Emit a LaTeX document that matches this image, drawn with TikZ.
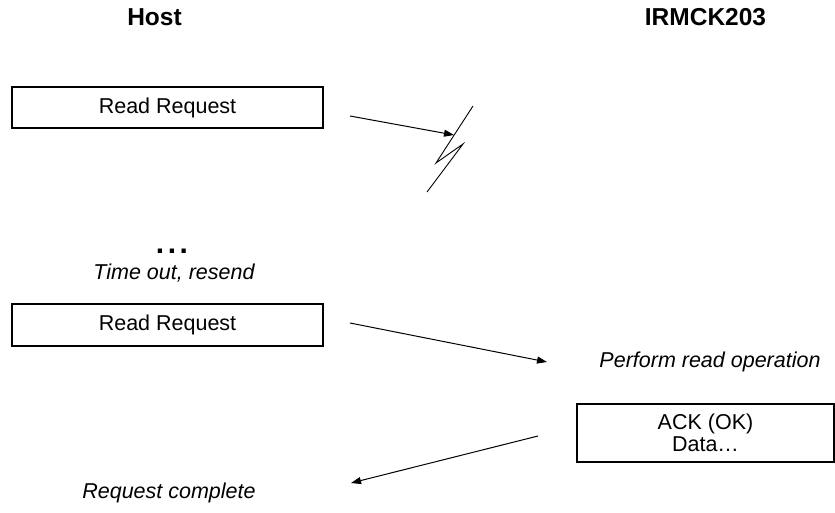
\documentclass[tikz,border=0pt]{standalone}
\usepackage{fontspec}
\setmainfont{Liberation Sans}
\usetikzlibrary{arrows.meta}
\tikzset{
  box/.style={draw=black, line width=1.2pt, rectangle, inner sep=0pt, font=\fontsize{21.5}{24}\selectfont},
  lbl/.style={inner sep=0pt, font=\fontsize{21.5}{24}\selectfont},
  ilbl/.style={inner sep=0pt, font=\fontsize{21.5}{24}\selectfont\itshape},
  head/.style={inner sep=0pt, font=\fontsize{24.5}{28}\selectfont\bfseries},
  dotlbl/.style={inner sep=0pt, font=\fontsize{30}{30}\selectfont\bfseries},
  msg/.style={draw=black, line width=1pt, -{Triangle[length=10pt,width=7pt]}},
  bolt/.style={draw=black, line width=0.9pt}
}
\begin{document}
\begin{tikzpicture}[x=1pt,y=-1pt]
\useasboundingbox (0,0) rectangle (835,513);
\node[head] (host) at (154.5,17) {Host};
\node[head] (irm) at (705.5,17) {IRMCK203};
\node[box, minimum width=311pt, minimum height=41pt] (rr1) at (167.5,107.5) {Read Request};
\node[dotlbl] (dots) at (172,251) {.\hspace{3.5pt}.\hspace{3.5pt}.};
\node[ilbl] (tout) at (174,273) {Time out, resend};
\node[box, minimum width=311pt, minimum height=42pt] (rr2) at (167.5,325) {Read Request};
\node[ilbl] (perf) at (710,362) {Perform read operation};
\node[box, minimum width=257pt, minimum height=58pt, align=center] (ack) at (705.5,433) {ACK (OK)\\[-2pt]Data\ldots};
\node[ilbl] (done) at (169,493) {Request complete};
\coordinate (a1s) at (350,116);
\coordinate (a1e) at (454,135);
\coordinate (a2s) at (350,323);
\coordinate (a2e) at (547,362);
\coordinate (a3s) at (538,436);
\coordinate (a3e) at (351,483);
\coordinate (b1) at (473,106);
\coordinate (b2) at (436,163);
\coordinate (b3) at (463,144);
\coordinate (b4) at (427,192);
\draw[msg] (a1s) -- (a1e);
\draw[bolt] (b1) -- (b2) -- (b3) -- (b4);
\draw[msg] (a2s) -- (a2e);
\draw[msg] (a3s) -- (a3e);
\end{tikzpicture}
\end{document}
